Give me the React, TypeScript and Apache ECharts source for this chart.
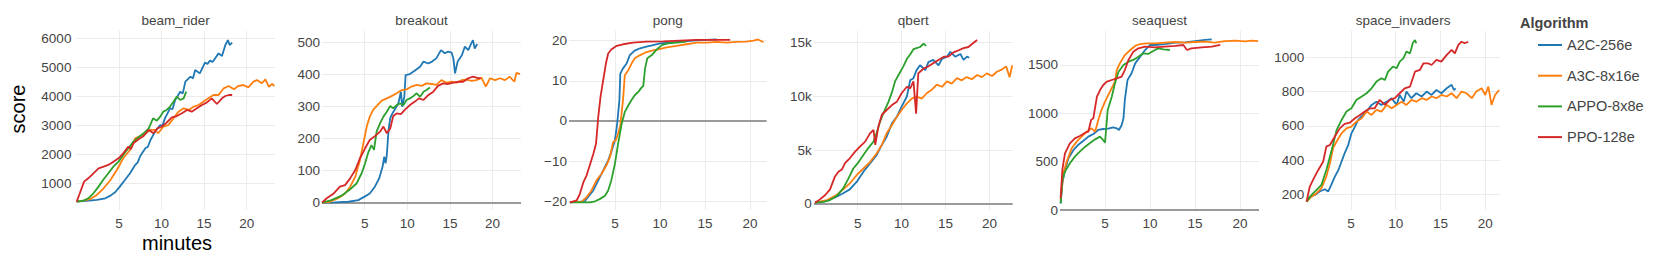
import { useEffect, useRef } from 'react';
import * as echarts from 'echarts';

// ---------- data ----------
const games = ['beam_rider', 'breakout', 'pong', 'qbert', 'seaquest', 'space_invaders'];
const algorithms = ['A2C-256e', 'A3C-8x16e', 'APPO-8x8e', 'PPO-128e'];
const xTicks = [5, 10, 15, 20];
const beamTicks = [1000, 2000, 3000, 4000, 5000, 6000];
const breakoutTicks = [0, 100, 200, 300, 400, 500];
const pongTicks = [-20, -10, 0, 10, 20];
const qbertTicks = [0, 5000, 10000, 15000];
const seaquestTicks = [0, 500, 1000, 1500];
const invadersTicks = [200, 400, 600, 800, 1000];

const beamA2C = [[0.03,368],[1.2,391],[2.4,425],[3.4,483],[4.0,575],[4.55,690],[5.1,885],[5.7,1115],[6.3,1345],[6.9,1630],[7.2,1720],[7.5,1942],[8.1,2206],[8.4,2260],[8.7,2494],[9.25,2781],[9.85,3010],[10.1,2980],[10.4,3240],[11.0,3585],[11.3,3560],[11.6,3873],[12.2,4160],[12.5,4100],[12.8,4505],[13.4,4677],[13.7,4620],[13.95,4907],[14.5,4790],[15.1,5160],[15.4,5120],[15.7,5230],[16.0,5180],[16.3,5310],[16.7,5480],[17.1,5390],[17.5,5770],[17.8,5940],[18.0,5770],[18.3,5850]];
const beamA3C = [[0.03,368],[0.8,400],[1.6,450],[2.4,600],[3.2,828],[4.0,1115],[4.75,1460],[5.5,1862],[6.3,2150],[6.9,2550],[7.5,2630],[8.1,2725],[8.7,2840],[9.25,2840],[9.6,2725],[10.2,2950],[10.8,3010],[11.4,3240],[12.0,3470],[12.6,3585],[13.2,3530],[13.8,3645],[14.35,3700],[14.9,3815],[15.5,3930],[16.1,4045],[16.7,4045],[17.3,4275],[17.9,4355],[18.5,4240],[19.0,4355],[19.6,4390],[20.2,4310],[20.8,4505],[21.2,4560],[21.8,4450],[22.2,4585],[22.6,4330],[23.0,4425],[23.25,4355]];
const beamAPPO = [[0.03,368],[0.8,400],[1.4,483],[2.0,655],[2.6,885],[3.2,1138],[3.75,1345],[4.35,1575],[4.95,1747],[5.5,1977],[6.1,2206],[6.7,2436],[7.3,2586],[7.9,2725],[8.5,2895],[9.0,3240],[9.45,3160],[9.85,3300],[10.2,3470],[10.6,3530],[11.0,3645],[11.4,3815],[11.8,3990],[12.2,3873],[12.6,3930],[12.9,4160]];
const beamPPO = [[0.03,368],[0.4,655],[0.9,1057],[1.4,1172],[2.0,1345],[2.6,1517],[3.2,1575],[3.75,1632],[4.35,1747],[4.95,1862],[5.5,2034],[6.1,2264],[6.4,2180],[6.7,2379],[7.3,2517],[7.9,2630],[8.5,2840],[9.05,2725],[9.5,2895],[10.0,2950],[10.6,3090],[11.2,3275],[11.8,3320],[12.4,3413],[13.0,3530],[13.55,3470],[14.15,3585],[14.75,3700],[15.3,3780],[15.9,3930],[16.5,3735],[17.1,3930],[17.5,4010],[17.9,4045],[18.3,4045]];

const breakoutA2C = [[0.0,0],[1.5,1],[3.1,3],[4.25,8],[5.0,19],[5.6,29],[6.2,50],[6.7,76],[7.1,112],[7.3,144],[7.45,123],[7.6,149],[7.8,227],[8.0,264],[8.25,279],[8.55,292],[8.95,310],[9.25,347],[9.4,300],[9.65,331],[9.8,399],[10.3,402],[10.9,413],[11.5,425],[11.9,441],[12.45,435],[12.9,441],[13.4,451],[13.95,477],[14.4,467],[14.8,472],[15.2,469],[15.4,451],[15.6,404],[15.9,441],[16.4,461],[16.75,488],[17.15,477],[17.5,498],[17.7,508],[17.9,482],[18.2,496]];
const breakoutA3C = [[0.0,0],[0.95,3],[1.9,14],[2.7,29],[3.3,50],[3.9,81],[4.45,133],[4.85,185],[5.25,238],[5.6,269],[6.0,290],[6.4,302],[7.0,319],[7.6,326],[8.15,333],[8.75,342],[9.35,352],[9.9,354],[10.5,363],[11.1,368],[11.7,365],[12.25,373],[12.85,371],[13.4,368],[14.0,383],[14.6,375],[15.2,378],[15.8,375],[16.4,383],[16.95,385],[17.55,381],[18.1,383],[18.7,391],[19.2,363],[19.7,389],[20.3,383],[20.85,389],[21.45,383],[22.0,394],[22.55,378],[22.8,406],[23.2,402]];
const breakoutAPPO = [[0.0,0],[1.1,8],[2.3,22],[3.3,42],[4.05,60],[4.65,92],[5.05,123],[5.45,159],[5.8,180],[6.1,165],[6.4,222],[6.8,248],[7.2,269],[7.6,284],[8.0,302],[8.35,295],[8.75,305],[9.15,310],[9.55,305],[9.9,321],[10.3,326],[10.7,333],[11.1,342],[11.5,331],[11.9,347],[12.25,352],[12.65,360]];
const breakoutPPO = [[0.0,0],[0.55,14],[1.3,27],[2.1,50],[2.7,55],[3.3,76],[3.9,102],[4.45,139],[5.05,170],[5.6,196],[6.2,208],[6.8,222],[7.2,238],[7.6,217],[8.0,232],[8.35,271],[8.75,279],[9.25,277],[9.7,290],[10.3,305],[10.9,316],[11.35,326],[11.9,321],[12.45,336],[13.05,347],[13.6,365],[14.2,373],[14.8,371],[15.4,375],[16.0,378],[16.55,378],[17.15,389],[17.7,394],[18.3,389],[18.6,389]];

const pongA2C = [[0.0,-20.25],[1.65,-20],[2.0,-19],[2.6,-17.3],[3.15,-14.8],[3.7,-12.3],[4.25,-9.8],[4.6,-7.75],[5.0,-4.8],[5.25,-0.7],[5.5,5.2],[5.6,11.8],[5.9,13.1],[6.3,14.3],[6.65,16.4],[7.2,17.5],[7.8,18.1],[8.5,18.5],[9.25,18.9],[10.0,19.3],[11.1,19.5],[12.2,19.75],[13.7,20],[15.2,20.2],[16.3,20.3]];
const pongA3C = [[0.0,-20.25],[1.3,-20.1],[1.85,-19],[2.4,-17.3],[2.95,-14.8],[3.5,-13.2],[4.05,-11.1],[4.45,-9],[4.8,-5.25],[5.1,-4.8],[5.35,-3.2],[5.6,-1.1],[5.9,5.2],[6.1,11.4],[6.5,12.7],[6.85,14.3],[7.2,15.6],[7.8,16.4],[8.35,17],[9.1,17.5],[9.8,17.8],[10.75,18.3],[11.85,18.7],[12.95,19.1],[14.1,19.5],[15.2,19.5],[16.3,19.7],[17.4,19.5],[18.5,19.7],[19.6,19.75],[20.4,20],[20.9,20.3],[21.5,19.6]];
const pongAPPO = [[0.0,-20.25],[2.2,-20.25],[2.8,-20],[3.35,-19.4],[3.9,-18.6],[4.25,-17.3],[4.6,-14.8],[5.0,-10.7],[5.35,-5.7],[5.75,-0.7],[6.1,2.25],[6.5,3.9],[6.85,5.2],[7.2,6.4],[7.6,7.25],[7.95,8.3],[8.15,8.7],[8.35,13.1],[8.6,15.6],[9.1,16.4],[9.6,17.7],[10.2,18.9],[10.9,19.3],[11.85,19.5],[12.95,19.75]];
const pongPPO = [[0.0,-20.25],[0.75,-19.8],[1.1,-18.2],[1.5,-15.25],[1.85,-13.6],[2.2,-11.1],[2.6,-8.2],[2.9,-5.7],[3.15,1.0],[3.4,6],[3.7,10.2],[4.0,14.3],[4.25,16.8],[4.6,17.8],[5.2,18.7],[5.9,19.1],[7.0,19.5],[8.5,19.75],[10.4,19.8],[12.2,20],[14.1,20.2],[15.9,20.2],[17.8,20.2]];

const qbertA2C = [[0.13,120],[1.5,300],[2.6,680],[3.35,1000],[4.1,1360],[4.9,2080],[5.65,3000],[6.4,3780],[7.15,4550],[7.75,5500],[8.3,6260],[8.9,7500],[9.45,8100],[10.0,9050],[10.6,10000],[10.97,11500],[11.35,11700],[11.7,12450],[12.1,12900],[12.7,12450],[13.05,13200],[13.6,13400],[14.2,12900],[14.6,13500],[15.15,13700],[15.55,14150],[16.1,13700],[16.7,13950],[17.05,13400],[17.45,13700],[17.7,13600]];
const qbertA3C = [[0.13,120],[1.5,370],[2.6,840],[3.35,1360],[4.1,1920],[4.9,2700],[5.65,3300],[6.4,3900],[7.15,4700],[7.75,5500],[8.3,6570],[8.9,7350],[9.45,8100],[10.0,8740],[10.6,9360],[11.15,9800],[11.7,10000],[12.3,9800],[12.85,10300],[13.4,10600],[14.0,11100],[14.6,10900],[15.15,11400],[15.7,11200],[16.3,11700],[16.85,11500],[17.4,11800],[18.0,11600],[18.6,12000],[19.15,11800],[19.7,12150],[20.3,11900],[20.85,12300],[21.4,12500],[21.9,12800],[22.3,11800],[22.6,12900]];
const qbertAPPO = [[0.13,120],[1.1,200],[1.85,370],[2.6,740],[3.35,1460],[3.95,2390],[4.5,3300],[5.1,3900],[5.65,4550],[6.2,5200],[6.8,5800],[7.15,6600],[7.55,7650],[7.9,8400],[8.5,9500],[8.9,10400],[9.25,11400],[9.65,12000],[10.2,12800],[10.6,13500],[10.97,13900],[11.35,14400],[11.7,14500],[12.1,14600],[12.5,14900],[12.8,14700]];
const qbertPPO = [[0.13,120],[0.7,430],[1.3,840],[1.85,1360],[2.4,2540],[2.8,3000],[3.2,3200],[3.55,3800],[4.1,4250],[4.7,4870],[5.25,5330],[5.85,5800],[6.4,6570],[6.8,6900],[7.0,5500],[7.35,7200],[7.75,8300],[8.3,8740],[8.9,9200],[9.45,9500],[10.0,10300],[10.6,10900],[10.97,10750],[11.35,11400],[11.65,8400],[11.9,12150],[12.5,12600],[13.05,12800],[13.6,13100],[14.2,13400],[14.8,13700],[15.3,13700],[15.9,14100],[16.5,14300],[17.05,14500],[17.6,14600],[18.2,15000],[18.6,15250]];

const seaquestA2C = [[0.07,69],[0.26,276],[0.55,414],[0.93,534],[1.5,621],[2.0,672],[2.6,717],[3.15,759],[3.7,786],[4.25,828],[4.8,838],[5.35,841],[5.9,855],[6.3,845],[6.55,828],[6.85,879],[7.05,948],[7.2,1138],[7.5,1345],[7.95,1414],[8.35,1517],[8.9,1586],[9.45,1655],[10.0,1707],[10.55,1707],[11.65,1717],[12.8,1731],[13.9,1734],[15.0,1748],[16.1,1759],[16.85,1766]];
const seaquestA3C = [[0.07,103],[0.37,379],[0.74,500],[1.3,638],[1.85,707],[2.4,759],[2.95,810],[3.5,845],[3.9,810],[4.25,931],[4.6,1034],[5.0,1121],[5.55,1224],[6.1,1328],[6.3,1448],[6.65,1517],[7.2,1603],[7.8,1655],[8.35,1697],[8.9,1717],[9.6,1724],[10.55,1724],[11.65,1731],[12.8,1738],[13.9,1731],[15.0,1738],[16.1,1741],[17.2,1731],[18.3,1748],[19.45,1752],[20.55,1745],[21.3,1752],[22.0,1748]];
const seaquestAPPO = [[0.07,69],[0.26,310],[0.55,397],[1.1,483],[1.65,552],[2.2,603],[2.8,655],[3.3,690],[3.9,731],[4.45,759],[4.8,724],[5.0,697],[5.3,1034],[5.75,1172],[6.1,1310],[6.5,1431],[7.05,1500],[7.6,1534],[8.15,1552],[8.7,1586],[9.25,1621],[9.8,1614],[10.4,1648],[10.9,1672],[11.5,1662],[12.2,1655]];
const seaquestPPO = [[0.07,121],[0.26,414],[0.55,586],[1.1,690],[1.65,741],[2.2,766],[2.8,800],[3.15,810],[3.45,931],[3.7,948],[4.1,1172],[4.45,1241],[4.8,1293],[5.2,1328],[5.75,1345],[6.3,1362],[6.85,1379],[7.2,1448],[7.6,1552],[8.15,1638],[8.7,1672],[9.45,1690],[10.55,1683],[11.65,1690],[12.8,1697],[13.7,1707],[14.1,1655],[14.6,1672],[15.75,1683],[16.85,1690],[17.8,1707]];

const invadersA2C = [[0.04,157],[0.4,186],[0.97,196],[1.5,216],[2.1,229],[2.45,216],[2.8,255],[3.2,303],[3.6,342],[3.95,391],[4.3,440],[4.7,488],[5.05,556],[5.45,595],[5.8,634],[6.35,663],[6.9,693],[7.3,722],[7.85,741],[8.4,722],[9.0,741],[9.55,761],[10.1,722],[10.45,780],[10.9,741],[11.2,800],[11.75,761],[12.3,790],[12.9,771],[13.45,800],[14.0,780],[14.55,809],[15.1,790],[15.7,819],[16.25,839],[16.5,809],[16.7,819]];
const invadersA3C = [[0.04,157],[0.6,186],[1.15,206],[1.7,235],[2.25,303],[2.65,381],[3.0,469],[3.4,508],[3.95,556],[4.5,585],[5.05,595],[5.6,624],[6.2,644],[6.75,683],[7.3,663],[7.85,693],[8.4,683],[9.0,722],[9.55,702],[10.1,722],[10.65,741],[11.2,722],[11.75,751],[12.3,741],[12.9,761],[13.45,751],[14.0,771],[14.55,761],[15.1,780],[15.7,771],[16.25,790],[16.8,761],[17.35,800],[17.9,790],[18.5,761],[19.0,800],[19.6,819],[20.0,780],[20.35,829],[20.7,722],[21.1,780],[21.55,809]];
const invadersAPPO = [[0.04,157],[0.6,196],[1.15,225],[1.7,255],[2.25,342],[2.85,459],[3.4,576],[3.95,634],[4.5,683],[5.05,702],[5.6,751],[6.2,771],[6.75,790],[7.3,819],[7.85,858],[8.4,877],[8.8,868],[9.15,916],[9.7,946],[10.1,936],[10.45,975],[10.85,994],[11.2,1033],[11.6,1023],[11.9,1082],[12.15,1101],[12.3,1082]];
const invadersPPO = [[0.04,157],[0.4,245],[0.85,293],[1.35,342],[1.9,391],[2.25,478],[2.65,488],[3.2,537],[3.75,585],[4.3,611],[4.9,619],[5.45,644],[6.0,663],[6.55,683],[7.1,702],[7.65,702],[8.2,751],[8.8,722],[9.35,751],[9.9,761],[10.45,790],[11.0,819],[11.6,829],[12.15,916],[12.7,926],[13.1,965],[13.6,965],[14.0,955],[14.55,985],[15.1,975],[15.7,1014],[16.25,1043],[16.6,1023],[17.0,1072],[17.35,1091],[17.7,1082],[18.1,1091]];

const seriesByGame = [
  [beamA2C, beamA3C, beamAPPO, beamPPO],
  [breakoutA2C, breakoutA3C, breakoutAPPO, breakoutPPO],
  [pongA2C, pongA3C, pongAPPO, pongPPO],
  [qbertA2C, qbertA3C, qbertAPPO, qbertPPO],
  [seaquestA2C, seaquestA3C, seaquestAPPO, seaquestPPO],
  [invadersA2C, invadersA3C, invadersAPPO, invadersPPO],
];
const yTicksByGame = [beamTicks, breakoutTicks, pongTicks, qbertTicks, seaquestTicks, invadersTicks];

// ---------- layout / style ----------
const colors = ['#1f77b4', '#ff7f0e', '#2ca02c', '#d62728'];
const FONT = "'Liberation Sans', Arial, Helvetica, sans-serif";
const TICK_SIZE = 13.5;
const GRID_TOP = 31;
const GRID_HEIGHT = 179;
const panels = [
  { left: 76.4, width: 198.6, xMin: 0, xMax: 23.33, yMin: 79, yMax: 6252, margin: 5, zero: false },
  { left: 322, width: 199, xMin: 0, xMax: 23.33, yMin: -22.8, yMax: 536.6, margin: 2, zero: true },
  { left: 569, width: 197.6, xMin: -0.1, xMax: 21.85, yMin: -22.17, yMax: 22.4, margin: 2, zero: true },
  { left: 813.8, width: 198.9, xMin: 0, xMax: 22.65, yMin: -558, yMax: 16088, margin: 2, zero: true },
  { left: 1060, width: 199, xMin: 0, xMax: 22.1, yMin: 0, yMax: 1851.7, margin: 2, zero: true },
  { left: 1306.2, width: 193.8, xMin: 0, xMax: 21.65, yMin: 108, yMax: 1153.6, margin: 2, zero: false },
];

function fmtY(gi: number) {
  return (v: number) => {
    if (gi === 3) return v === 0 ? '0' : `${v / 1000}k`;
    return String(v).replace('-', '\u2212');
  };
}

function buildOption() {
  const grid = panels.map((p) => ({
    left: p.left, top: GRID_TOP, width: p.width, height: GRID_HEIGHT,
    containLabel: false, outerBoundsMode: 'none',
  }));
  const xAxis = panels.map((p, i) => ({
    type: 'value', gridIndex: i, min: p.xMin, max: p.xMax,
    axisLine: { show: false },
    axisTick: { show: false, customValues: xTicks },
    axisLabel: { customValues: xTicks, color: '#444', fontSize: TICK_SIZE, fontFamily: FONT, margin: 6 },
    splitLine: { show: true, lineStyle: { color: '#ebebeb', width: 1 } },
  }));
  const yAxis = panels.map((p, i) => ({
    type: 'value', gridIndex: i, min: p.yMin, max: p.yMax,
    axisLine: { show: false },
    axisTick: { show: false, customValues: yTicksByGame[i] },
    axisLabel: {
      customValues: yTicksByGame[i], color: '#444', fontSize: TICK_SIZE, fontFamily: FONT,
      margin: p.margin, formatter: fmtY(i),
    },
    splitLine: { show: true, lineStyle: { color: '#ebebeb', width: 1 } },
  }));
  const series: any[] = [];
  seriesByGame.forEach((list, gi) => {
    list.forEach((data, ai) => {
      const s: any = {
        type: 'line', name: algorithms[ai], xAxisIndex: gi, yAxisIndex: gi,
        data, showSymbol: false, symbol: 'none', silent: true,
        lineStyle: { width: 1.8, color: colors[ai] }, itemStyle: { color: colors[ai] },
        emphasis: { disabled: true }, z: 3,
      };
      if (ai === 0 && panels[gi].zero) {
        s.markLine = {
          silent: true, symbol: ['none', 'none'], z: 1, animation: false,
          label: { show: false }, emphasis: { disabled: true },
          lineStyle: { color: '#9a9a9a', width: 2, type: 'solid' },
          data: [{ yAxis: 0 }],
        };
      }
      series.push(s);
    });
  });
  const txt = (text: string, x: number, y: number, size: number, color: string, extra: any = {}) => ({
    type: 'text', x, y, silent: true, ...extra,
    style: {
      text, fill: color, fontSize: size, fontFamily: FONT, fontWeight: extra.bold ? 'bold' : 'normal',
      textAlign: extra.alignLeft ? 'left' : 'center', align: extra.alignLeft ? 'left' : 'center',
      textVerticalAlign: 'middle', verticalAlign: 'middle',
    },
  });
  const graphic: any[] = games.map((g, i) => txt(g, panels[i].left + panels[i].width / 2, 20, TICK_SIZE, '#444'));
  graphic.push(txt('minutes', 177, 243, 20, '#000'));
  graphic.push({ ...txt('score', 18, 109, 20, '#000'), rotation: Math.PI / 2 });
  const alg: any = txt('Algorithm', 1520, 23, 14.5, '#444');
  alg.style.fontWeight = 'bold';
  alg.style.textAlign = 'left';
  alg.style.align = 'left';
  graphic.push(alg);

  return {
    animation: false,
    grid, xAxis, yAxis, series, graphic,
    legend: {
      orient: 'vertical', left: 1538, top: 37, padding: 0,
      itemWidth: 24, itemHeight: 2, itemGap: 14.7, icon: 'rect',
      selectedMode: false, data: algorithms,
      textStyle: { fontSize: 14.5, color: '#444', fontFamily: FONT, lineHeight: 16 },
    },
  };
}

export default function App() {
  const ref = useRef<HTMLDivElement>(null);
  useEffect(() => {
    const chart = echarts.init(ref.current!, null, { renderer: 'svg' });
    chart.setOption(buildOption() as any);
    return () => chart.dispose();
  }, []);
  return (
    <div
      ref={ref}
      style={{ position: 'absolute', left: 0, top: 0, width: 1660, height: 278, background: '#fff' }}
    />
  );
}
